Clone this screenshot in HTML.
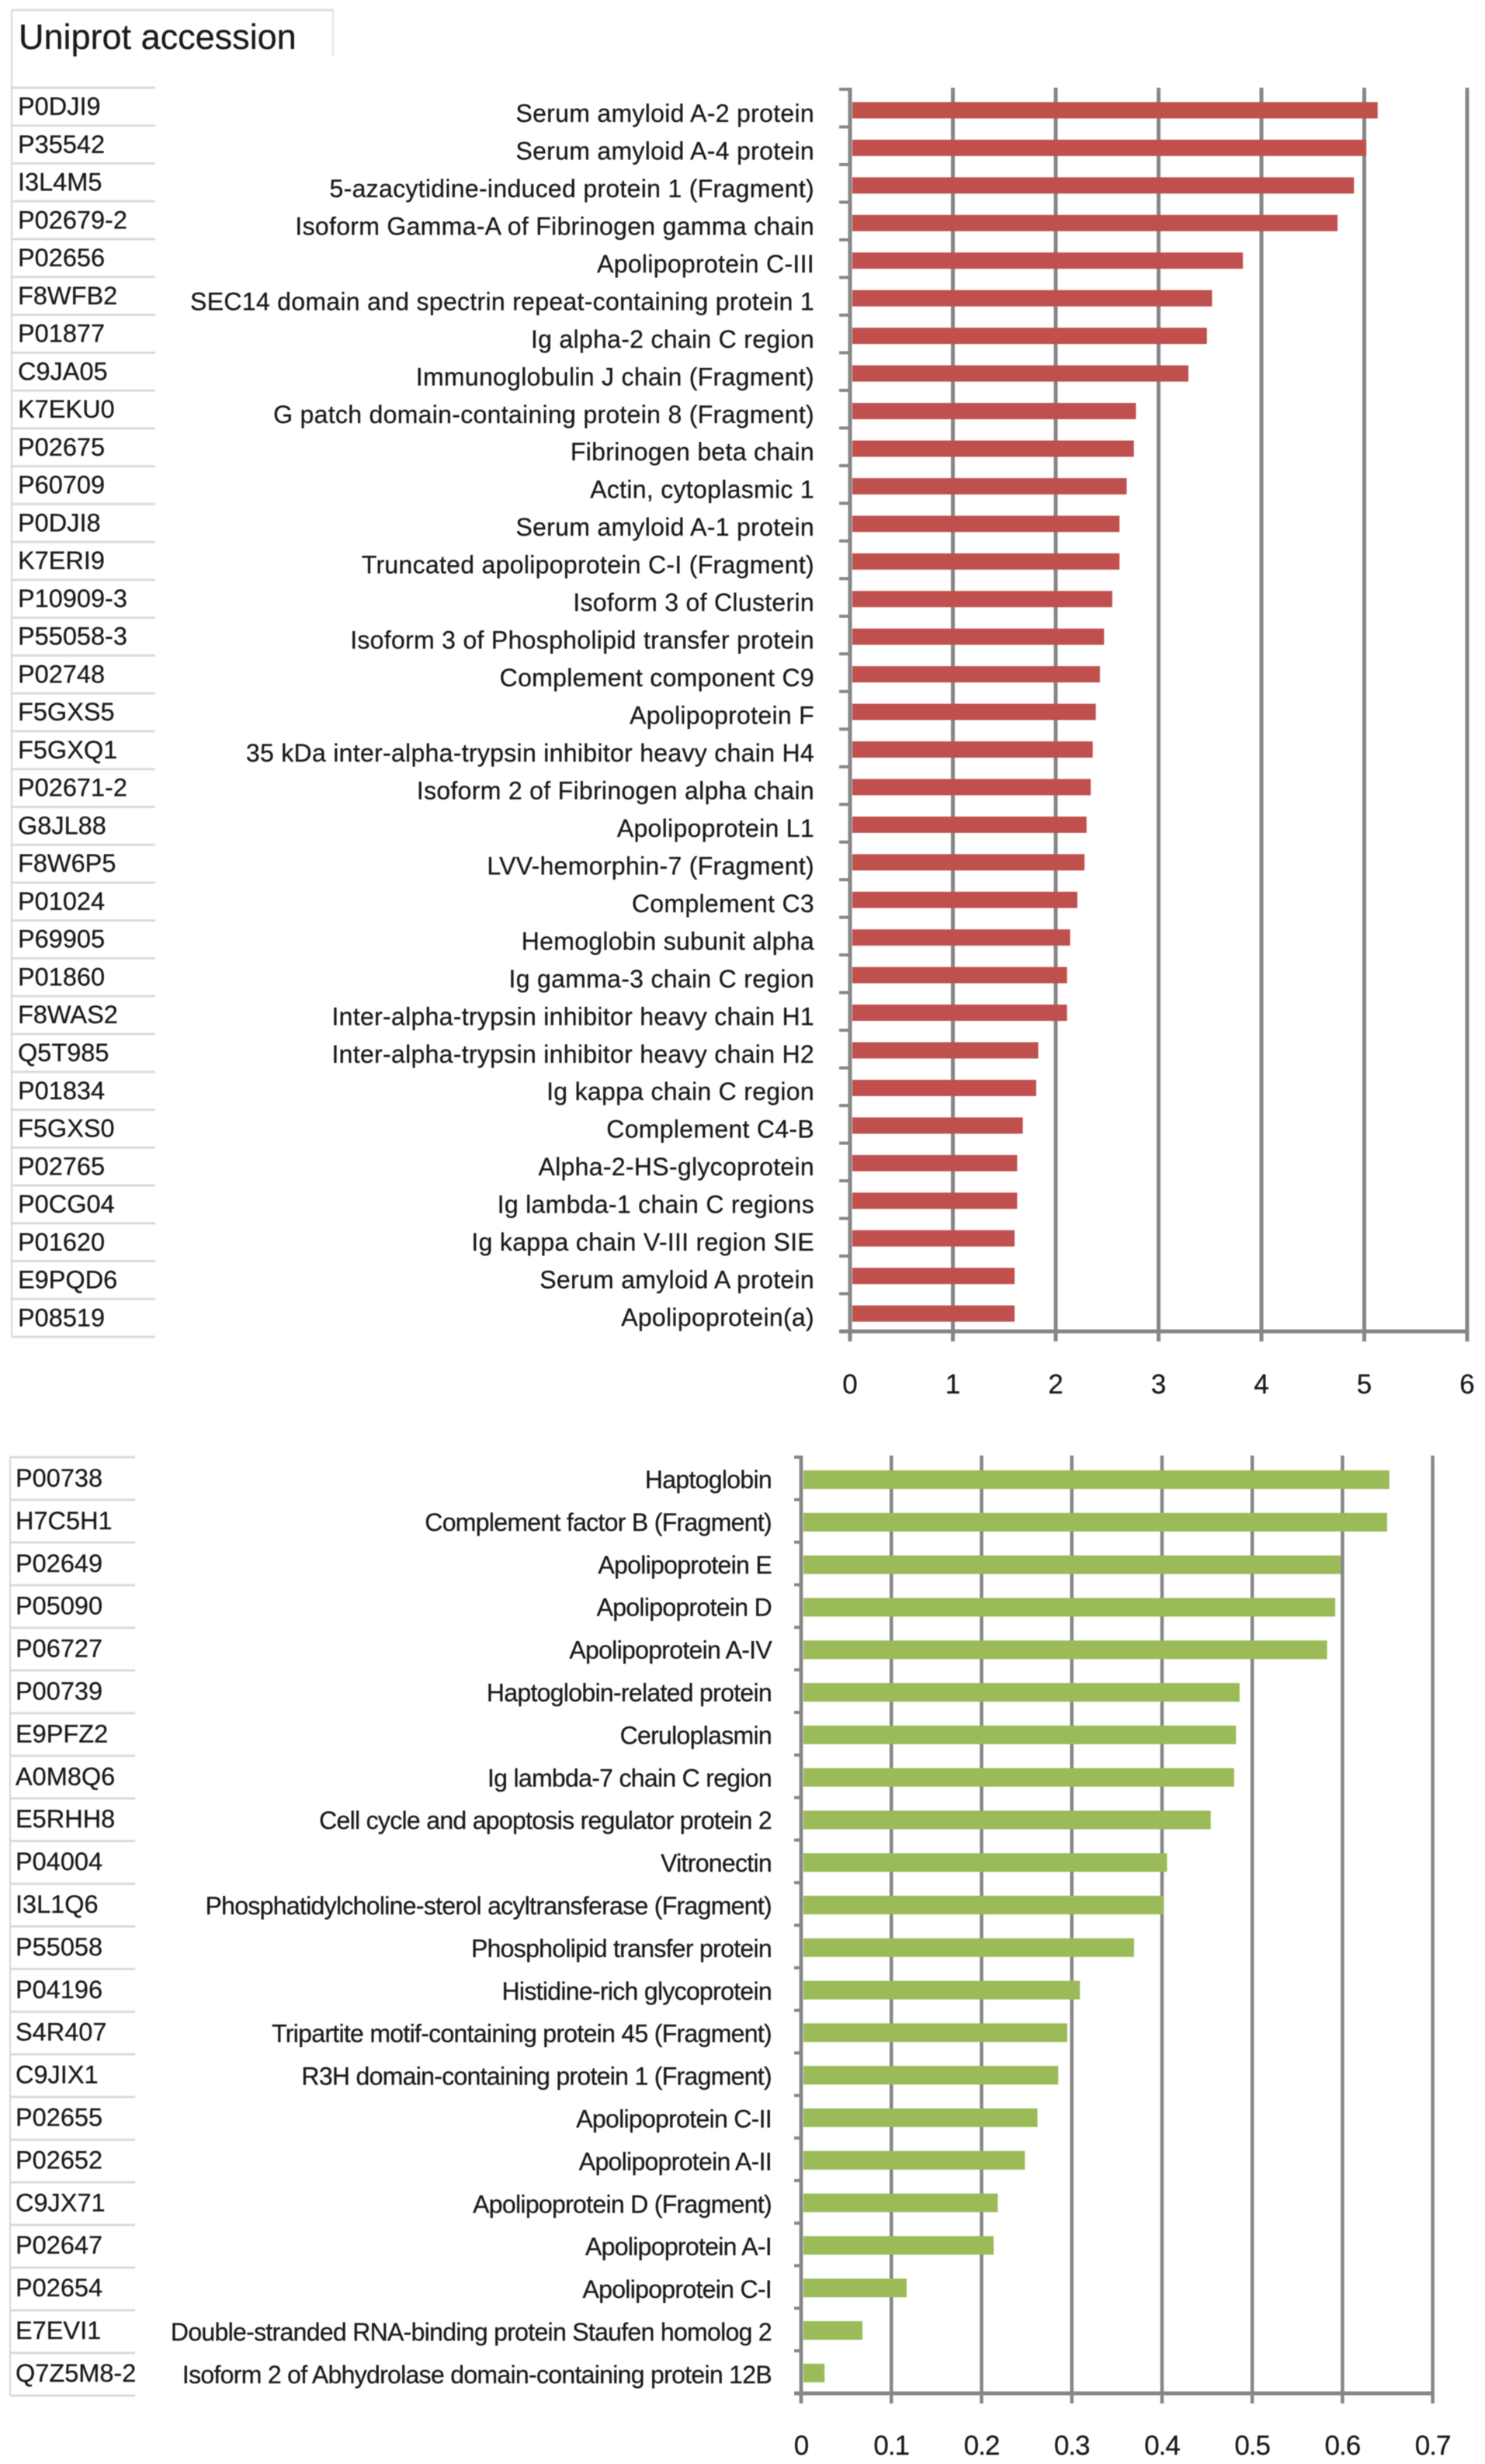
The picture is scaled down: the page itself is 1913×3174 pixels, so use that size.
<!DOCTYPE html>
<html lang="en">
<head>
<meta charset="utf-8">
<title>Uniprot accession protein bar charts</title>
<style>
  html, body { margin: 0; padding: 0; background: #ffffff; }
  body { width: 1913px; height: 3174px; overflow: hidden; }
  svg { display: block; filter: blur(0.5px); }
  text { font-family: "Liberation Sans", sans-serif; fill: #1a1a1a; stroke: #1a1a1a; stroke-width: 0.3px; }
</style>
</head>
<body>
<svg id="figure" xmlns="http://www.w3.org/2000/svg" width="1913" height="3174" viewBox="0 0 1913 3174">
  <defs>
    <clipPath id="bottom-table-clip"><rect x="0" y="1860" width="174" height="1240"></rect></clipPath>
  </defs>
  <rect x="0" y="0" width="1913" height="3174" fill="#ffffff"></rect>
  <g>
    <line x1="15" y1="13" x2="430" y2="13" stroke="#dcdce4" stroke-width="3"></line>
    <line x1="429" y1="13" x2="429" y2="72" stroke="#e4e4ea" stroke-width="2"></line>
    <text x="24" y="63" font-size="45">Uniprot accession</text>
  </g>
</svg>
<script>
const topAccessions = ["P0DJI9","P35542","I3L4M5","P02679-2","P02656","F8WFB2","P01877","C9JA05","K7EKU0","P02675","P60709","P0DJI8","K7ERI9","P10909-3","P55058-3","P02748","F5GXS5","F5GXQ1","P02671-2","G8JL88","F8W6P5","P01024","P69905","P01860","F8WAS2","Q5T985","P01834","F5GXS0","P02765","P0CG04","P01620","E9PQD6","P08519"];
const topProteins = ["Serum amyloid A-2 protein","Serum amyloid A-4 protein","5-azacytidine-induced protein 1 (Fragment)","Isoform Gamma-A of Fibrinogen gamma chain","Apolipoprotein C-III","SEC14 domain and spectrin repeat-containing protein 1","Ig alpha-2 chain C region","Immunoglobulin J chain (Fragment)","G patch domain-containing protein 8 (Fragment)","Fibrinogen beta chain","Actin, cytoplasmic 1","Serum amyloid A-1 protein","Truncated apolipoprotein C-I (Fragment)","Isoform 3 of Clusterin","Isoform 3 of Phospholipid transfer protein","Complement component C9","Apolipoprotein F","35 kDa inter-alpha-trypsin inhibitor heavy chain H4","Isoform 2 of Fibrinogen alpha chain","Apolipoprotein L1","LVV-hemorphin-7 (Fragment)","Complement C3","Hemoglobin subunit alpha","Ig gamma-3 chain C region","Inter-alpha-trypsin inhibitor heavy chain H1","Inter-alpha-trypsin inhibitor heavy chain H2","Ig kappa chain C region","Complement C4-B","Alpha-2-HS-glycoprotein","Ig lambda-1 chain C regions","Ig kappa chain V-III region SIE","Serum amyloid A protein","Apolipoprotein(a)"];
const topValues = [5.13,5.02,4.90,4.74,3.82,3.52,3.47,3.29,2.78,2.76,2.69,2.62,2.62,2.55,2.47,2.43,2.39,2.36,2.34,2.30,2.28,2.21,2.14,2.11,2.11,1.83,1.81,1.68,1.625,1.625,1.60,1.60,1.60];
const topTicks = ["0","1","2","3","4","5","6"];

const bottomAccessions = ["P00738","H7C5H1","P02649","P05090","P06727","P00739","E9PFZ2","A0M8Q6","E5RHH8","P04004","I3L1Q6","P55058","P04196","S4R407","C9JIX1","P02655","P02652","C9JX71","P02647","P02654","E7EVI1","Q7Z5M8-2"];
const bottomProteins = ["Haptoglobin","Complement factor B (Fragment)","Apolipoprotein E","Apolipoprotein D","Apolipoprotein A-IV","Haptoglobin-related protein","Ceruloplasmin","Ig lambda-7 chain C region","Cell cycle and apoptosis regulator protein 2","Vitronectin","Phosphatidylcholine-sterol acyltransferase (Fragment)","Phospholipid transfer protein","Histidine-rich glycoprotein","Tripartite motif-containing protein 45 (Fragment)","R3H domain-containing protein 1 (Fragment)","Apolipoprotein C-II","Apolipoprotein A-II","Apolipoprotein D (Fragment)","Apolipoprotein A-I","Apolipoprotein C-I","Double-stranded RNA-binding protein Staufen homolog 2","Isoform 2 of Abhydrolase domain-containing protein 12B"];
const bottomValues = [0.652,0.6495,0.598,0.592,0.583,0.486,0.482,0.480,0.454,0.4056,0.402,0.369,0.309,0.295,0.285,0.262,0.248,0.218,0.2134,0.117,0.068,0.026];
const bottomTicks = ["0","0.1","0.2","0.3","0.4","0.5","0.6","0.7"];

const NS = "http://www.w3.org/2000/svg";
const figure = document.getElementById("figure");

function make(tag, attrs, parent) {
  const el = document.createElementNS(NS, tag);
  for (const k in attrs) el.setAttribute(k, attrs[k]);
  parent.appendChild(el);
  return el;
}

function drawTable(prefix, accessions, L) {
  const g = make("g", {}, figure);
  
  
  const lastY = L.lineY0 + L.linePitch * accessions.length;
  make("line", {x1: L.left, y1: L.borderTop, x2: L.left, y2: lastY, stroke: "#d6d6de", "stroke-width": 2}, g);
  for (let i = 0; i <= accessions.length; i++) {
    const y = L.lineY0 + L.linePitch * i;
    const rule = make("line", {x1: L.left, y1: y, x2: L.right, y2: y, stroke: "#d9d9e4", "stroke-width": 3}, g);
    
    
  }
  accessions.forEach(function (acc, i) {
    const t = make("text", {x: L.textX, y: L.textY0 + L.textPitch * i, "font-size": 32.5}, g);
    t.textContent = acc;
    if (L.clip) t.setAttribute("clip-path", L.clip);
    
    
  });
}

function drawChart(prefix, proteins, values, ticks, color, L) {
  const g = make("g", {}, figure);
  
  
  const tickNums = ticks.map(Number);
  const maxTick = tickNums[tickNums.length - 1];
  const xScale = function (v) { return L.x0 + (v / maxTick) * (L.x1 - L.x0); };
  const rowY = function (i) { return L.barY0 + L.barPitch * i; };
  const gridColor = "#868686";

  ticks.forEach(function (label) {
    const x = xScale(Number(label));
    const grid = make("line", {x1: x, y1: L.top, x2: x, y2: L.axisY + L.tickBelow, stroke: gridColor, "stroke-width": L.gridW}, g);
    
    
    const t = make("text", {x: x, y: L.tickTextY, "font-size": 35, "text-anchor": "middle", "letter-spacing": L.tickSpacing}, g);
    t.textContent = label;
    
    
  });

  const yAxis = make("line", {x1: L.x0, y1: L.top, x2: L.x0, y2: L.axisY + L.tickBelow, stroke: gridColor, "stroke-width": L.gridW}, g);
  
  
  const xAxis = make("line", {x1: L.x0 - L.tickLeft, y1: L.axisY, x2: L.x1 + 2, y2: L.axisY, stroke: gridColor, "stroke-width": 5}, g);
  
  

  for (let i = 0; i < values.length; i++) {
    const y = L.top + 2 + (L.axisY - L.top - 2) * i / values.length;
    const tick = make("line", {x1: L.x0 - L.tickLeft, y1: y, x2: L.x0, y2: y, stroke: gridColor, "stroke-width": 4}, g);
    
    
  }

  values.forEach(function (v, i) {
    const barLeft = L.x0 + 3;
    const bar = make("rect", {x: barLeft, y: rowY(i) - L.barH / 2, width: Math.max(0, xScale(v) - barLeft), height: L.barH, fill: color}, g);
    
    
  });

  proteins.forEach(function (name, i) {
    const t = make("text", {x: L.labelRight, y: L.labelY0 + L.labelPitch * i, "font-size": 32, "text-anchor": "end", "letter-spacing": L.labelSpacing}, g);
    t.textContent = name;
    
    
  });
}

drawTable("top", topAccessions, {left: 15, right: 200, borderTop: 13, lineY0: 113, linePitch: 48.76, textX: 23, textY0: 148, textPitch: 48.76});
drawChart("top", topProteins, topValues, topTicks, "#c0504d", {
  x0: 1095, x1: 1890, top: 113, axisY: 1715, tickBelow: 13, tickLeft: 14, gridW: 5,
  barY0: 142, barPitch: 48.44, barH: 21, labelRight: 1049, labelY0: 157, labelPitch: 48.47, tickTextY: 1795,
  labelSpacing: 0.3, tickSpacing: 0
});

drawTable("bottom", bottomAccessions, {left: 13, right: 174, borderTop: 1877, lineY0: 1877, linePitch: 54.95, textX: 20, textY0: 1915, textPitch: 54.9, clip: "url(#bottom-table-clip)"});
drawChart("bottom", bottomProteins, bottomValues, bottomTicks, "#9bbb59", {
  x0: 1032, x1: 1845.6, top: 1875, axisY: 3083, tickBelow: 13, tickLeft: 9, gridW: 4.5,
  barY0: 1906, barPitch: 54.8, barH: 24, labelRight: 994, labelY0: 1917, labelPitch: 54.9, tickTextY: 3162,
  labelSpacing: -0.7, tickSpacing: -1
});
</script>
</body>
</html>
